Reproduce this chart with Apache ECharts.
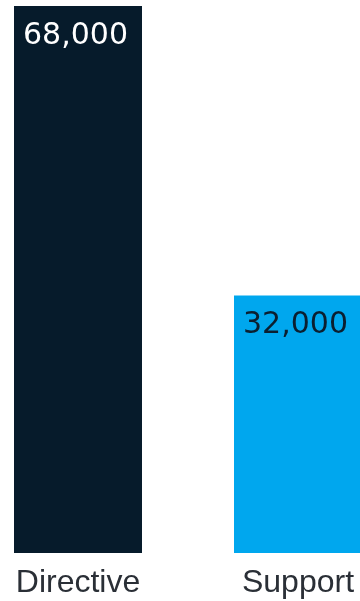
<!DOCTYPE html>
<html>
<head>
<meta charset="utf-8">
<style>
  html, body { margin: 0; padding: 0; background: #ffffff; }
  #chart { width: 360px; height: 601px; }
</style>
<script src="https://cdn.jsdelivr.net/npm/echarts@6/dist/echarts.min.js"></script>
</head>
<body>
<div id="chart"></div>
<script>
// Headcount by team type
const categories = ['Directive', 'Support'];
const values = [68000, 32000];
const barColors = ['#061b2b', '#00a7ee'];
const labelColors = ['#ffffff', '#0b1f30'];

const chart = echarts.init(document.getElementById('chart'), null, { renderer: 'canvas' });

chart.setOption({
  animation: false,
  grid: {
    left: -32, width: 440, top: 6, bottom: 48,
    containLabel: false,
    outerBoundsMode: 'none'
  },
  xAxis: {
    type: 'category',
    data: categories,
    axisLine: { show: false },
    axisTick: { show: false },
    axisLabel: {
      color: '#2a2f36',
      fontFamily: 'Liberation Sans',
      fontSize: 32,
      margin: 14
    }
  },
  yAxis: {
    type: 'value',
    min: 0,
    max: 68000,
    show: false,
    splitLine: { show: false }
  },
  series: [{
    type: 'bar',
    barWidth: 128,
    data: values.map((v, i) => ({
      value: v,
      itemStyle: { color: barColors[i] },
      label: { color: labelColors[i] }
    })),
    label: {
      show: true,
      position: 'insideTopLeft',
      distance: 0,
      offset: [9, 15],
      fontFamily: 'DejaVu Sans',
      fontSize: 30,
      formatter: p => p.value.toLocaleString('en-US')
    }
  }]
});
</script>
</body>
</html>
